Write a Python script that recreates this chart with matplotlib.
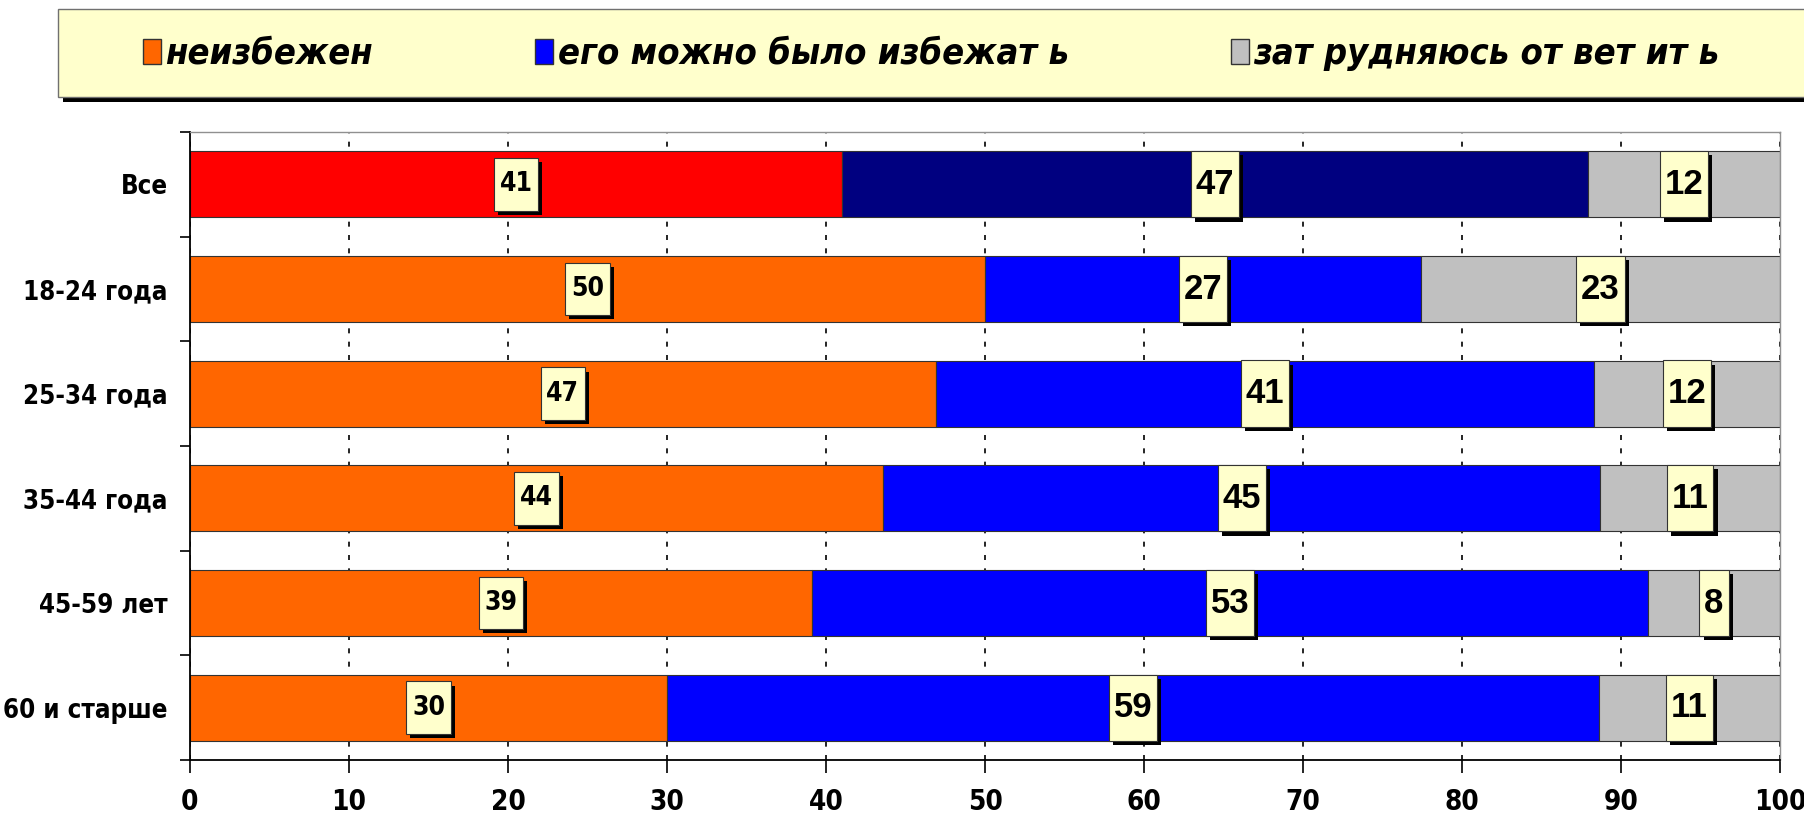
import matplotlib
matplotlib.use('Agg')
import matplotlib.pyplot as plt
import matplotlib.patheffects as pe
from matplotlib.patches import Rectangle, Patch
from matplotlib.path import Path
from matplotlib.transforms import Affine2D
import numpy as np

groups = ['Все', '18-24 года', '25-34 года', '35-44 года', '45-59 лет', '60 и старше']
inevitable = [41.0, 50.0, 46.9, 43.6, 39.1, 30.0]
avoidable = [46.9, 27.4, 41.4, 45.1, 52.6, 58.6]
no_answer = [12.1, 22.6, 11.7, 11.3, 8.3, 11.4]
labels_inev = [41, 50, 47, 44, 39, 30]
labels_avoid = [47, 27, 41, 45, 53, 59]
labels_na = [12, 23, 12, 11, 8, 11]
series_names = ['неизбежен', 'его можно было избежат ь', 'зат рудняюсь от вет ит ь']

ORANGE = '#FF6600'; BLUE = '#0000FF'; GRAY = '#C0C0C0'
RED = '#FF0000'; NAVY = '#000080'; CREAM = '#FFFFCC'
NARROW = dict(family='DejaVu Sans', stretch='condensed', weight='bold')
WIDE = dict(family='Liberation Sans', weight='bold')

W, H = 1804, 813
fig = plt.figure(figsize=(W / 100, H / 100), dpi=100)
fig.patch.set_facecolor('white')
ax = fig.add_axes([190 / W, 1 - 760 / H, 1590 / W, 628 / H])

y = np.arange(len(groups))
bh = 0.63
c1 = [RED] + [ORANGE] * (len(groups) - 1)
c2 = [NAVY] + [BLUE] * (len(groups) - 1)
left2 = np.array(inevitable)
left3 = left2 + np.array(avoidable)
ax.barh(y, inevitable, height=bh, color=c1, edgecolor='#333333', linewidth=0.8, zorder=2)
ax.barh(y, avoidable, left=left2, height=bh, color=c2, edgecolor='#333333', linewidth=0.8, zorder=2)
ax.barh(y, no_answer, left=left3, height=bh, color=GRAY, edgecolor='#333333', linewidth=0.8, zorder=2)

ax.set_xlim(0, 100)
ax.set_ylim(len(groups) - 0.5, -0.5)
ax.set_xticks(np.arange(0, 101, 10))
ax.set_yticks(y)
ax.set_yticklabels(groups)
ax.set_yticks(np.arange(-0.5, len(groups)), minor=True)
ax.tick_params(axis='y', which='major', length=0, pad=16)
ax.tick_params(axis='y', which='minor', length=7, width=1.2, direction='out')
ax.tick_params(axis='x', length=9, width=1.2, direction='out', pad=11)
for t in ax.get_yticklabels():
    t.set_fontproperties(dict(NARROW, size=18.5))
for t in ax.get_xticklabels():
    t.set_fontproperties(dict(NARROW, size=20))
ax.xaxis.grid(True, linestyle=(0, (3, 5)), color='black', linewidth=1.2, zorder=0)
ax.set_axisbelow(True)
for s in ['top', 'right']:
    ax.spines[s].set_color('#909090'); ax.spines[s].set_linewidth(1)
for s in ['left', 'bottom']:
    ax.spines[s].set_linewidth(1.3)


def make_box(padx, pady):
    def box(x0, y0, width, height, mutation_size):
        px, py = padx * mutation_size, pady * mutation_size
        return Path.unit_rectangle().transformed(
            Affine2D().scale(width + 2 * px, height + 2 * py).translate(x0 - px, y0 - py))
    return box


box_shadow = [pe.SimplePatchShadow(offset=(3, -3), shadow_rgbFace='black', alpha=1), pe.Normal()]


def label(xc, yc, txt, small):
    fp = dict(NARROW, size=19) if small else dict(WIDE, size=25)
    bs = make_box(0.22, 0.5) if small else make_box(0.14, 0.48)
    t = ax.text(xc, yc, txt, ha='center', va='center', fontproperties=fp, color='black', zorder=4,
                bbox=dict(boxstyle=bs, fc=CREAM, ec='#333333', lw=0.8))
    t.get_bbox_patch().set_path_effects(box_shadow)


for i in range(len(groups)):
    label(inevitable[i] / 2, y[i], str(labels_inev[i]), True)
    label(left2[i] + avoidable[i] / 2, y[i], str(labels_avoid[i]), False)
    label(left3[i] + no_answer[i] / 2, y[i], str(labels_na[i]), False)

# legend box with shadow
fig.patches.append(Rectangle((63 / W, 1 - 102 / H), 1.1, 88 / H, transform=fig.transFigure,
                             fc='black', ec='none', zorder=0))
fig.patches.append(Rectangle((58 / W, 1 - 97 / H), 1.1, 88 / H, transform=fig.transFigure,
                             fc=CREAM, ec='#707070', lw=1, zorder=1))
handles = [Patch(fc=ORANGE, ec='#333333'), Patch(fc=BLUE, ec='#333333'), Patch(fc=GRAY, ec='#333333')]
leg = fig.legend(handles, series_names, loc='center left', bbox_to_anchor=(110 / W, 1 - 54 / H),
                 ncol=3, frameon=False, handlelength=0.5, handleheight=0.7, handletextpad=0.12,
                 columnspacing=4.5,
                 prop=dict(family='DejaVu Sans', stretch='condensed', weight='bold',
                           style='oblique', size=26))
leg.set_zorder(5)

fig.savefig('out.png', dpi=100, facecolor='white')
